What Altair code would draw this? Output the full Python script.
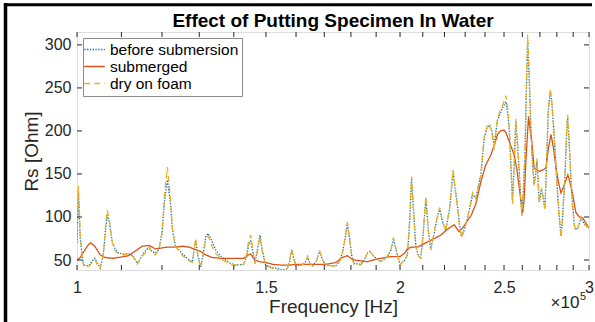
import altair as alt
import pandas as pd

# ---------------- data ----------------
# frequency in units of 1e5 Hz (shared by "before submersion" and "dry on foam")
freq_a = [1.000, 1.003, 1.007, 1.012, 1.015, 1.025, 1.035, 1.039, 1.045, 1.051,
          1.058, 1.064, 1.067, 1.071, 1.079, 1.086, 1.094, 1.105, 1.117, 1.128,
          1.138, 1.150, 1.160, 1.167, 1.175, 1.183, 1.192, 1.200, 1.207, 1.214,
          1.222, 1.227, 1.235, 1.254, 1.272, 1.281, 1.290, 1.296, 1.304, 1.312,
          1.318, 1.325, 1.336, 1.346, 1.360, 1.376, 1.390, 1.405, 1.430, 1.440,
          1.445, 1.452, 1.458, 1.465, 1.474, 1.481, 1.488, 1.499, 1.521, 1.537,
          1.554, 1.570, 1.578, 1.585, 1.592, 1.599, 1.620, 1.633, 1.640, 1.647,
          1.657, 1.670, 1.683, 1.694, 1.705, 1.742, 1.755, 1.767, 1.778, 1.786,
          1.795, 1.803, 1.812, 1.838, 1.855, 1.865, 1.875, 1.891, 1.919, 1.947,
          1.962, 1.972, 1.985, 2.000, 2.020, 2.032, 2.042, 2.050, 2.058, 2.069,
          2.080, 2.091, 2.102, 2.114, 2.125, 2.136, 2.152, 2.165, 2.178, 2.190,
          2.206, 2.225, 2.241, 2.252, 2.263, 2.272, 2.282, 2.295, 2.312, 2.328,
          2.337, 2.353, 2.365, 2.379, 2.396, 2.410, 2.422, 2.436, 2.448, 2.460,
          2.466, 2.480, 2.492, 2.510, 2.520, 2.528, 2.537, 2.546, 2.555, 2.564,
          2.573, 2.583, 2.590, 2.598, 2.606, 2.615, 2.622, 2.630, 2.639, 2.648,
          2.657, 2.667, 2.676, 2.683, 2.690, 2.696, 2.703, 2.710, 2.720, 2.729,
          2.737, 2.749, 2.761, 2.771, 2.781, 2.793, 2.805, 2.815, 2.825, 2.833,
          2.849, 2.860, 2.866, 2.874, 2.886, 2.896, 2.907, 2.917, 2.928, 2.938,
          2.949, 2.960, 2.981, 3.000]

before_vals = [70, 130, 75, 50, 44, 43, 50, 52, 46, 41,
               55, 90, 102, 96, 70, 62, 58, 57, 57, 55,
               46, 55, 62, 64, 60, 58, 62, 80, 120, 143,
               116, 85, 67, 57, 50, 48, 73, 55, 42, 60,
               77, 81, 72, 62, 55, 50, 46, 44, 45, 55,
               68, 72, 60, 46, 65, 79, 62, 44, 41, 40,
               38, 40, 48, 62, 52, 44, 44, 48, 54, 47,
               43, 48, 60, 50, 44, 43, 48, 58, 75, 92,
               75, 55, 46, 45, 52, 58, 60, 54, 48, 54,
               62, 75, 60, 45, 50, 56, 95, 145, 110, 66,
               55, 52, 80, 122, 85, 62, 81, 98, 110, 95,
               85, 110, 153, 130, 112, 92, 77, 85, 99, 116,
               126, 122, 135, 149, 192, 203, 207, 200, 182, 205,
               213, 220, 227, 234, 220, 203, 160, 118, 160, 211,
               185, 153, 125, 103, 130, 172, 240, 305, 260, 203,
               165, 138, 150, 165, 140, 118, 125, 132, 122, 110,
               150, 223, 246, 230, 203, 165, 126, 100, 78, 95,
               145, 200, 215, 190, 145, 115, 91, 85, 87, 92,
               99, 95, 89, 88]

dry_vals = [72, 136, 80, 50, 43, 42, 48, 51, 44, 40,
            55, 94, 108, 98, 70, 60, 57, 56, 57, 54,
            45, 54, 60, 65, 58, 56, 62, 82, 128, 158,
            122, 88, 66, 55, 49, 47, 75, 56, 41, 58,
            74, 78, 66, 58, 52, 48, 45, 44, 45, 58,
            72, 79, 62, 46, 62, 77, 60, 44, 40, 39,
            37, 40, 50, 62, 52, 44, 44, 47, 54, 47,
            43, 47, 60, 50, 44, 43, 47, 56, 76, 94,
            74, 54, 45, 44, 51, 58, 60, 54, 48, 54,
            63, 76, 60, 44, 50, 56, 98, 147, 112, 65,
            55, 52, 82, 124, 84, 62, 82, 99, 111, 95,
            84, 112, 155, 132, 110, 90, 76, 84, 100, 118,
            128, 121, 136, 150, 194, 205, 209, 198, 178, 207,
            215, 224, 230, 241, 226, 205, 162, 115, 162, 214,
            186, 152, 124, 101, 132, 176, 248, 312, 266, 205,
            165, 136, 152, 168, 140, 116, 126, 134, 121, 108,
            152, 226, 249, 232, 204, 164, 124, 97, 76, 94,
            147, 204, 219, 192, 144, 113, 90, 84, 86, 93,
            100, 95, 90, 88]

# "submerged" curve
freq_sub = [1.000, 1.007, 1.015, 1.025, 1.030, 1.039, 1.051, 1.062, 1.079, 1.094,
            1.117, 1.138, 1.150, 1.167, 1.183, 1.200, 1.214, 1.235, 1.254, 1.272,
            1.290, 1.304, 1.318, 1.336, 1.360, 1.390, 1.430, 1.445, 1.452, 1.464,
            1.480, 1.499, 1.521, 1.554, 1.575, 1.600, 1.640, 1.683, 1.705, 1.742,
            1.767, 1.786, 1.800, 1.812, 1.838, 1.865, 1.900, 1.961, 2.000, 2.020,
            2.032, 2.050, 2.076, 2.100, 2.121, 2.152, 2.183, 2.210, 2.246, 2.270,
            2.290, 2.312, 2.330, 2.353, 2.379, 2.403, 2.430, 2.450, 2.466, 2.480,
            2.500, 2.510, 2.528, 2.555, 2.570, 2.583, 2.602, 2.610, 2.620, 2.635,
            2.645, 2.653, 2.667, 2.696, 2.720, 2.735, 2.750, 2.765, 2.780, 2.795,
            2.810, 2.825, 2.840, 2.867, 2.880, 2.897, 2.917, 2.940, 2.960, 2.980,
            3.000]

sub_vals = [50, 53, 60, 68, 70, 66, 56, 53, 52, 53,
            55, 62, 66, 67, 63, 64, 65, 65, 66, 65,
            62, 60, 56, 53, 52, 52, 52, 56, 57, 50,
            48, 47, 45, 44, 44, 45, 45, 45, 45, 47,
            53, 55, 52, 50, 49, 48, 51, 54, 54, 58,
            63, 65, 65, 68, 71, 75, 79, 85, 91, 83,
            88, 96, 102, 115, 141, 160, 172, 185, 196, 200,
            201, 198, 188, 172, 155, 134, 105, 120, 165, 217,
            200, 188, 157, 153, 155, 157, 180, 196, 180, 157,
            140, 128, 135, 149, 140, 126, 105, 100, 99, 93,
            87]

series_names = ["before submersion", "submerged", "dry on foam"]
series_colors = ["#0072BD", "#D95319", "#EDB120"]
series_dashes = [[1.3, 1.5], [1, 0], [6, 4]]

x_tick_values = [1.0, 1.1, 1.2, 1.3, 1.4, 1.5, 1.6, 1.7, 1.8, 1.9, 2.0,
                 2.1, 2.2, 2.3, 2.4, 2.5, 2.6, 2.7, 2.8, 2.9, 3.0]
x_label_values = [1, 1.5, 2, 2.5, 3]
y_tick_values = [50, 100, 150, 200, 250, 300]

title_text = "Effect of Putting Specimen In Water"

# ---------------- build table ----------------
rows = []
for f, v in zip(freq_a, before_vals):
    rows.append({"f": f, "rs": v, "series": series_names[0], "o": 0})
for f, v in zip(freq_sub, sub_vals):
    rows.append({"f": f, "rs": v, "series": series_names[1], "o": 1})
for f, v in zip(freq_a, dry_vals):
    rows.append({"f": f, "rs": v, "series": series_names[2], "o": 2})
df = pd.DataFrame(rows)

W, H = 512, 238
FONT = "Liberation Sans"
TXT = "#262626"

xscale = alt.Scale(type="log", domain=[1, 3], nice=False, zero=False)
yscale = alt.Scale(domain=[38.4, 315], nice=False, zero=False)

x_axis = alt.Axis(values=x_label_values, format="~g", ticks=False, domain=False,
                  grid=False, labelFontSize=16, labelFont=FONT, labelColor=TXT,
                  labelPadding=9, labelFlush=False, labelOverlap=False,
                  title="Frequency [Hz]", titleFontSize=19, titleFont=FONT,
                  titleFontWeight="normal", titleColor=TXT, titlePadding=2)
y_axis = alt.Axis(values=y_tick_values, ticks=False, domain=False, grid=False,
                  labelFontSize=16, labelFont=FONT, labelColor=TXT,
                  labelPadding=6, labelFlush=False, labelOverlap=False,
                  title="Rs [Ohm]", titleFontSize=19, titleFont=FONT,
                  titleFontWeight="normal", titleColor=TXT, titlePadding=3)

legend_kw = dict(
    title=None, orient="top-left", offset=6, fillColor="white",
    strokeColor="#8c8c8c", padding=3.5, symbolType="M-1.45,0H1.45", symbolSize=200,
    symbolStrokeWidth=1.3, labelFontSize=15.5, labelFont=FONT, labelColor="black",
    rowPadding=-2.5, labelOffset=7.4,
)

lines = alt.Chart(df).mark_line(strokeWidth=1.3, clip=True).encode(
    x=alt.X("f:Q", scale=xscale, axis=x_axis),
    y=alt.Y("rs:Q", scale=yscale, axis=y_axis),
    color=alt.Color("series:N", scale=alt.Scale(domain=series_names, range=series_colors),
                    legend=alt.Legend(**legend_kw)),
    strokeDash=alt.StrokeDash("series:N",
                              scale=alt.Scale(domain=series_names, range=series_dashes),
                              legend=alt.Legend(**legend_kw)),
    order=alt.Order("o:Q"),
    detail="series:N",
)

xt = pd.DataFrame({"f": x_tick_values})
yt = pd.DataFrame({"rs": y_tick_values})

tick_style = dict(color=TXT, strokeWidth=1)
x_bottom = alt.Chart(xt).mark_rule(**tick_style).encode(
    x=alt.X("f:Q", scale=xscale, axis=x_axis), y=alt.value(H), y2=alt.value(H - 5))
x_top = alt.Chart(xt).mark_rule(**tick_style).encode(
    x=alt.X("f:Q", scale=xscale, axis=x_axis), y=alt.value(0), y2=alt.value(5))
y_left = alt.Chart(yt).mark_rule(**tick_style).encode(
    y=alt.Y("rs:Q", scale=yscale, axis=y_axis), x=alt.value(0), x2=alt.value(5))
y_right = alt.Chart(yt).mark_rule(**tick_style).encode(
    y=alt.Y("rs:Q", scale=yscale, axis=y_axis), x=alt.value(W - 5), x2=alt.value(W))

title_mark = alt.Chart(pd.DataFrame({"s": [title_text]})).mark_text(
    font=FONT, fontSize=19, fontWeight="bold", color="black", align="center",
    baseline="alphabetic").encode(text="s:N", x=alt.value(W / 2), y=alt.value(-5))

exp_base = alt.Chart(pd.DataFrame({"s": ["\u00d710"]})).mark_text(
    font=FONT, fontSize=17, color=TXT, align="left", baseline="alphabetic").encode(
    text="s:N", x=alt.value(473.5), y=alt.value(276))
exp_pow = alt.Chart(pd.DataFrame({"s": ["5"]})).mark_text(
    font=FONT, fontSize=11, color=TXT, align="left", baseline="alphabetic").encode(
    text="s:N", x=alt.value(503), y=alt.value(267.5))

frame_df = pd.DataFrame({"k": [0]})
frame_left = alt.Chart(frame_df).mark_rule(color="black", strokeWidth=3.5, clip=False).encode(
    x=alt.value(-71.5), y=alt.value(-29), y2=alt.value(300))
frame_top = alt.Chart(frame_df).mark_rule(color="black", strokeWidth=3, clip=False).encode(
    x=alt.value(-73), x2=alt.value(515), y=alt.value(-27.3))

chart = alt.layer(
    lines, x_bottom, x_top, y_left, y_right, title_mark, exp_base, exp_pow,
    frame_left, frame_top
).properties(
    width=W, height=H,
    autosize=alt.AutoSizeParams(type="none"),
    padding={"left": 77, "top": 32, "right": 6, "bottom": 52},
).configure_view(stroke="#262626", strokeWidth=1).configure(background="white")

chart.save("out.html", embed_options={"renderer": "svg", "actions": False})
